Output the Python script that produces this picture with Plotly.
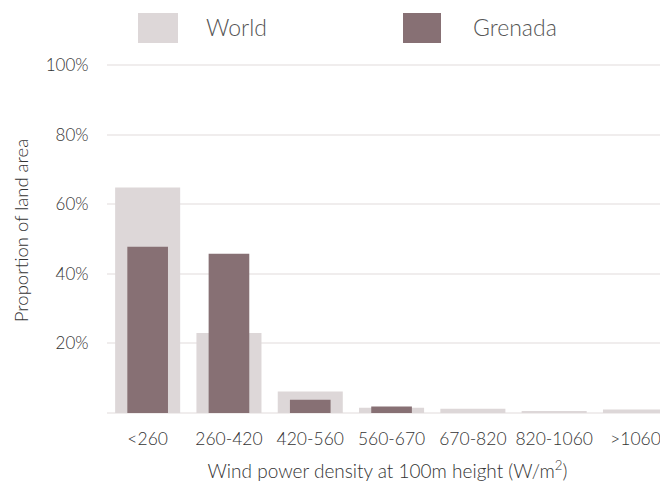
import plotly.graph_objects as go

categories = ["<260", "260-420", "420-560", "560-670", "670-820", "820-1060", ">1060"]
world = [64.9, 23.0, 6.2, 1.5, 1.2, 0.4, 1.0]
grenada = [47.8, 45.8, 3.8, 1.9, 0, 0, 0]
y_ticks = [20, 40, 60, 80, 100]
y_tick_labels = ["20%", "40%", "60%", "80%", "100%"]

WORLD_C = "#ddd7d8"
GREN_C = "#877074"
TXT = "#333333"
FONT = "Lato"

fig = go.Figure()
fig.add_trace(go.Bar(x=list(range(len(categories))), y=world, name="World",
                     marker=dict(color=WORLD_C, line=dict(width=0)), width=0.8,
                     showlegend=False))
fig.add_trace(go.Bar(x=list(range(len(categories))), y=grenada, name="Grenada",
                     marker=dict(color=GREN_C, line=dict(width=0)), width=0.5,
                     showlegend=False))

# page has an 8px body margin: size the figure to fit the 668x485 window
OFF = 8
W, H = 668 - OFF, 485 - OFF
ml, mr, mt, mb = 107 - OFF, 0, 48 - OFF, 72
def px(x): return (x - OFF - ml) / (W - ml - mr)
def py(y): return 1 - (y - OFF - mt) / (H - mt - mb)

fig.add_shape(type="rect", xref="paper", yref="paper", x0=px(138), x1=px(178),
              y0=py(43), y1=py(13), fillcolor=WORLD_C, line=dict(width=0))
fig.add_shape(type="rect", xref="paper", yref="paper", x0=px(403), x1=px(441),
              y0=py(43), y1=py(13), fillcolor=GREN_C, line=dict(width=0))
fig.add_annotation(text="World", xref="paper", yref="paper", x=px(204), y=py(27),
                   xanchor="left", yanchor="middle", showarrow=False,
                   font=dict(family=FONT, size=23, color="#555555", weight=300))
fig.add_annotation(text="Grenada", xref="paper", yref="paper", x=px(471), y=py(27),
                   xanchor="left", yanchor="middle", showarrow=False,
                   font=dict(family=FONT, size=23, color="#555555", weight=300))

fig.update_layout(
    width=W, height=H,
    margin=dict(l=ml, r=mr, t=mt, b=mb),
    barmode="overlay",
    plot_bgcolor="white", paper_bgcolor="white",
    font=dict(family=FONT, color=TXT, size=16, weight=300),
    xaxis=dict(
        tickmode="array", tickvals=list(range(len(categories))), ticktext=categories,
        range=[-0.5, 6.4], showgrid=False, zeroline=False, showline=False,
        ticks="outside", ticklen=10, tickcolor="rgba(0,0,0,0)",
        tickfont=dict(size=17.5, color=TXT),
        title=dict(text="Wind power density at 100m height (W/m<sup>2</sup>)",
                   font=dict(size=19, color=TXT), standoff=16),
    ),
    yaxis=dict(
        range=[0, 105], tickmode="array", tickvals=y_ticks, ticktext=y_tick_labels,
        showgrid=True, gridcolor="#f0eded", gridwidth=2,
        zeroline=True, zerolinecolor="#f0eded", zerolinewidth=2,
        showline=False, ticks="outside", ticklen=14, tickcolor="rgba(0,0,0,0)",
        tickfont=dict(size=17, color=TXT),
        title=dict(text="Proportion of land area", font=dict(size=18.5, color=TXT), standoff=12),
    ),
)

fig.write_html("out.html")
